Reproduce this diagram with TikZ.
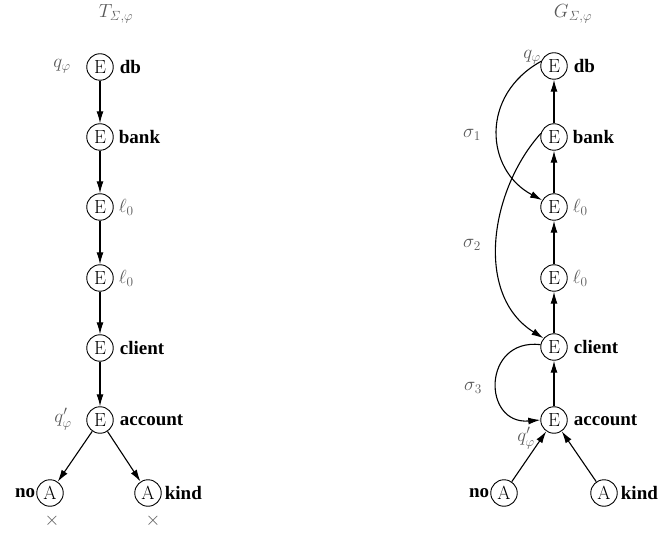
\RequirePackage{fix-cm}
\documentclass[tikz,border=0pt]{standalone}
\usepackage[no-math]{fontspec}
\setmainfont{Liberation Serif}
\usetikzlibrary{arrows.meta}
\begin{document}
\begin{tikzpicture}[x=1pt,y=-1pt,
  font=\fontsize{19}{23}\selectfont,
  st/.style={circle,draw,line width=0.9pt,minimum size=26.5pt,inner sep=0pt},
  lbl/.style={inner sep=0pt,font=\fontsize{19}{23}\selectfont\bfseries},
  gl/.style={text=black!65,inner sep=0pt},
  arr/.style={-{Latex[length=12pt,width=7pt]},line width=1.1pt}]
\useasboundingbox (0,0) rectangle (661,534);

% ---------- left: T ----------
\node[gl] (tT) at (116,14) {$T_{\mathit{\Sigma},\varphi}$};
\node[st] (ldb) at (100,67) {$\mathrm{E}$};
\node[st] (lbank) at (100,137) {$\mathrm{E}$};
\node[st] (llA) at (100,207) {$\mathrm{E}$};
\node[st] (llB) at (100,278) {$\mathrm{E}$};
\node[st] (lcl) at (100,348) {$\mathrm{E}$};
\node[st] (lacc) at (100,420) {$\mathrm{E}$};
\node[st] (lno) at (50,493) {$\mathrm{A}$};
\node[st] (lkind) at (148,493) {$\mathrm{A}$};

\node[lbl,anchor=west] (ldbt) at ([xshift=6pt]ldb.east) {db};
\node[lbl,anchor=west] (lbankt) at ([xshift=5pt]lbank.east) {bank};
\node[gl,anchor=west] (llAt) at ([xshift=5pt]llA.east) {$\ell_0$};
\node[gl,anchor=west] (llBt) at ([xshift=5pt]llB.east) {$\ell_0$};
\node[lbl,anchor=west] (lclt) at ([xshift=6pt]lcl.east) {client};
\node[lbl,anchor=west] (lacct) at ([xshift=6pt]lacc.east) {account};
\node[lbl,anchor=east] (lnot) at ([xshift=-1pt]lno.west) {no};
\node[lbl,anchor=west] (lkindt) at ([xshift=3pt]lkind.east) {kind};
\node[gl] (lq) at (62,66) {$q_\varphi$};
\node[gl] (lqp) at (63,419) {$q'_\varphi$};
\node[gl] (lx1) at (52,521) {$\times$};
\node[gl] (lx2) at (153,521) {$\times$};

\draw[arr] (ldb) -- (lbank);
\draw[arr] (lbank) -- (llA);
\draw[arr] (llA) -- (llB);
\draw[arr] (llB) -- (lcl);
\draw[arr] (lcl) -- (lacc);
\draw[arr] (lacc) -- (lno);
\draw[arr] (lacc) -- (lkind);

% ---------- right: G ----------
\node[gl] (tG) at (573,14) {$G_{\mathit{\Sigma},\varphi}$};
\node[st] (rdb) at (554,66) {$\mathrm{E}$};
\node[st] (rbank) at (554,137) {$\mathrm{E}$};
\node[st] (rlA) at (554,207) {$\mathrm{E}$};
\node[st] (rlB) at (554,278) {$\mathrm{E}$};
\node[st] (rcl) at (554,347) {$\mathrm{E}$};
\node[st] (racc) at (554,420) {$\mathrm{E}$};
\node[st] (rno) at (504,493) {$\mathrm{A}$};
\node[st] (rkind) at (604,493) {$\mathrm{A}$};

\node[lbl,anchor=west] (rdbt) at ([xshift=6pt]rdb.east) {db};
\node[lbl,anchor=west] (rbankt) at ([xshift=5pt]rbank.east) {bank};
\node[gl,anchor=west] (rlAt) at ([xshift=5pt]rlA.east) {$\ell_0$};
\node[gl,anchor=west] (rlBt) at ([xshift=5pt]rlB.east) {$\ell_0$};
\node[lbl,anchor=west] (rclt) at ([xshift=6pt]rcl.east) {client};
\node[lbl,anchor=west] (racct) at ([xshift=6pt]racc.east) {account};
\node[lbl,anchor=east] (rnot) at ([xshift=-1pt]rno.west) {no};
\node[lbl,anchor=west] (rkindt) at ([xshift=3pt]rkind.east) {kind};
\node[gl] (rq) at (532,57) {$q_\varphi$};
\node[gl] (rqp) at (526,438) {$q'_\varphi$};
\node[gl] (s1) at (472,135) {$\sigma_1$};
\node[gl] (s2) at (472,245) {$\sigma_2$};
\node[gl] (s3) at (473,388) {$\sigma_3$};

\draw[arr] (rbank) -- (rdb);
\draw[arr] (rlA) -- (rbank);
\draw[arr] (rlB) -- (rlA);
\draw[arr] (rcl) -- (rlB);
\draw[arr] (racc) -- (rcl);
\draw[arr] (rno) -- (racc);
\draw[arr] (rkind) -- (racc);

\draw[arr] (rdb.160) .. controls (480,95) and (485,170) .. (rlA.150);
\draw[arr] (rbank.165) .. controls (490,190) and (474,295) .. (rcl.140);
\draw[arr] (rcl.170) .. controls (482,338) and (482,425) .. (racc.west);
\end{tikzpicture}
\end{document}
